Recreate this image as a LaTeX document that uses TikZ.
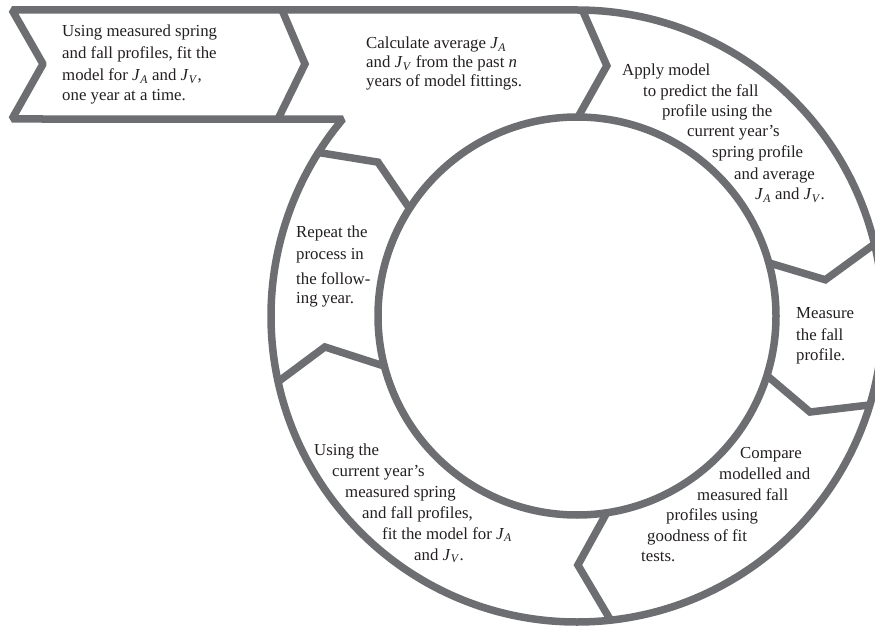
\documentclass[tikz,border=0pt]{standalone}
\usepackage{fontspec}
\setmainfont{Liberation Serif}
\usetikzlibrary{calc}
\definecolor{ring}{RGB}{109,110,113}
\definecolor{ink}{RGB}{35,31,32}
\newcommand{\myJA}{\textit{J}\textsubscript{\textit{A}}}
\newcommand{\myJV}{\textit{J}\textsubscript{\textit{V}}}
\begin{document}
\begin{tikzpicture}[x=1pt,y=-1pt,
  outline/.style={draw=ring, line width=7.5pt, line join=miter},
  bandline/.style={draw=ring, line width=7.5pt, line join=bevel},
  txt/.style={font=\fontsize{16.8}{20}\selectfont, text=ink, anchor=base west, inner sep=0pt}]
\useasboundingbox (0,0) rectangle (875,628);
\coordinate (C) at (577,316);
\coordinate (tl) at (12,10);
\coordinate (top) at (577,10);
\coordinate (bl) at (12,119);
\coordinate (tail) at (43,64);
% outer outline: band + outer ring
\draw[bandline] (tl) -- (top) arc[start angle=-90, end angle=220.07, radius=306] -- (bl) -- (tail) -- cycle;
% inner circle
\draw[outline] (C) circle[radius=199];
% chevrons
\draw[outline] (282,10) -- (305,64) -- (278,119);
\draw[outline] ($(C)+(271:306)$) -- ($(C)+(276.8:252)$) -- ($(C)+(270.3:199)$);
\draw[outline] ($(C)+(-13.6:306)$) -- ($(C)+(-8.3:251)$) -- ($(C)+(-15.5:199)$);
\draw[outline] ($(C)+(16.9:306)$) -- ($(C)+(22.4:252)$) -- ($(C)+(17.4:199)$);
\draw[outline] ($(C)+(83.7:306)$) -- ($(C)+(89.8:249)$) -- ($(C)+(81.4:199)$);
\draw[outline] ($(C)+(167.6:306)$) -- ($(C)+(173:254)$) -- ($(C)+(165.4:199)$);
\draw[outline] ($(C)+(212.3:306)$) -- ($(C)+(217.7:251.6)$) -- ($(C)+(212.7:199)$);
% segment 1
\node[txt] (s1a) at (62,37) {Using measured spring};
\node[txt] (s1b) at (62,59) {and fall profiles, fit the};
\node[txt] (s1c) at (62,81) {model for \myJA{} and \myJV,};
\node[txt] (s1d) at (62,101) {one year at a time.};
% segment 2
\node[txt] (s2a) at (366,49) {Calculate average \myJA};
\node[txt] (s2b) at (366,68) {and \myJV{} from the past \textit{n}};
\node[txt] (s2c) at (366,87) {years of model fittings.};
% segment 3
\node[txt] (s3a) at (622,76) {Apply model};
\node[txt] (s3b) at (643,97) {to predict the fall};
\node[txt] (s3c) at (662,117) {profile using the};
\node[txt] (s3d) at (687,137) {current year’s};
\node[txt] (s3e) at (712,158) {spring profile};
\node[txt] (s3f) at (734,180) {and average};
\node[txt] (s3g) at (755,200) {\myJA{} and \myJV.};
% segment 4
\node[txt] (s4a) at (796,318) {Measure};
\node[txt] (s4b) at (796,340) {the fall};
\node[txt] (s4c) at (796,360) {profile.};
% segment 5
\node[txt] (s5a) at (740,458) {Compare};
\node[txt] (s5b) at (719,479) {modelled and};
\node[txt] (s5c) at (697,500) {measured fall};
\node[txt] (s5d) at (666,520) {profiles using};
\node[txt] (s5e) at (647,541) {goodness of fit};
\node[txt] (s5f) at (641,561) {tests.};
% segment 6
\node[txt] (s6a) at (314,455) {Using the};
\node[txt] (s6b) at (332,476) {current year’s};
\node[txt] (s6c) at (345,497) {measured spring};
\node[txt] (s6d) at (362,518) {and fall profiles,};
\node[txt] (s6e) at (382,539) {fit the model for \myJA};
\node[txt] (s6f) at (414,560) {and \myJV.};
% segment 7
\node[txt] (s7a) at (296,238) {Repeat the};
\node[txt] (s7b) at (296,260) {process in};
\node[txt] (s7c) at (296,284) {the follow-};
\node[txt] (s7d) at (296,303) {ing year.};
\end{tikzpicture}
\end{document}
